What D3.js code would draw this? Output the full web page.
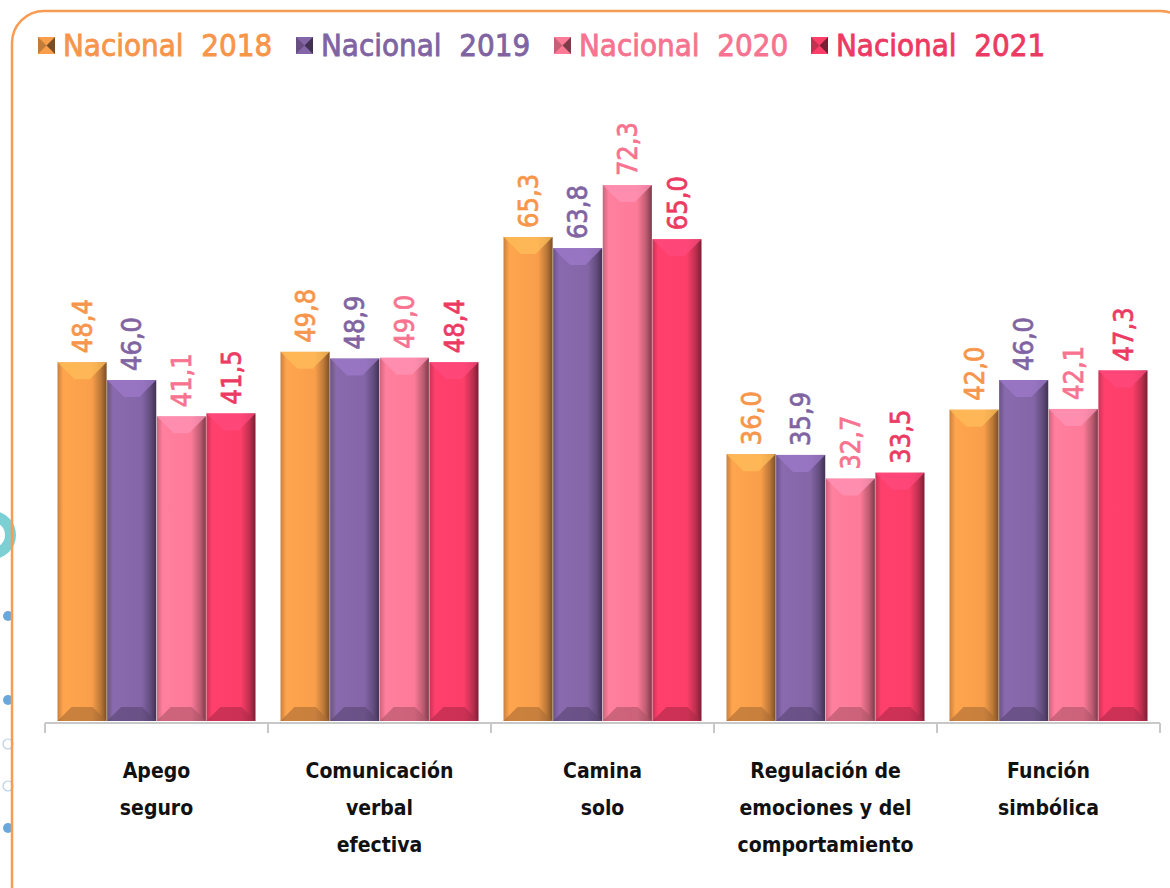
<!DOCTYPE html>
<html>
<head>
<meta charset="utf-8">
<script src="https://cdn.jsdelivr.net/npm/d3@7"></script>
<style>
  body { margin: 0; background: #fff; }
  svg { display: block; }
</style>
</head>
<body>
<div id="chart"></div>
<script>
// categories (lines of each label) and series
var categories = [
  ["Apego", "seguro"],
  ["Comunicación", "verbal", "efectiva"],
  ["Camina", "solo"],
  ["Regulación de", "emociones y del", "comportamiento"],
  ["Función", "simbólica"]
];
var seriesNames = ["Nacional  2018", "Nacional  2019", "Nacional  2020", "Nacional  2021"];
var v2018 = [48.4, 49.8, 65.3, 36.0, 42.0];
var v2019 = [46.0, 48.9, 63.8, 35.9, 46.0];
var v2020 = [41.1, 49.0, 72.3, 32.7, 42.1];
var v2021 = [41.5, 48.4, 65.0, 33.5, 47.3];

var width = 1170, height = 888;
var fills = ["#f99f4b", "#8466a8", "#fe7b98", "#fd3e69"];
var textColors = ["#f7954a", "#8064a2", "#f7738f", "#ec3a62"];

var allSeries = [v2018, v2019, v2020, v2021];
var data = categories.map(function(c, i) {
  return { cat: c, vals: allSeries.map(function(s, j) { return { s: j, v: s[i] }; }) };
});

var svg = d3.select("#chart").append("svg")
  .attr("width", width)
  .attr("height", height)
  .style("font-family", "'DejaVu Sans Condensed', 'Open Sans', sans-serif");

var defs = svg.append("defs");
fills.forEach(function(f, i) {
  var c = d3.color(f);
  var g = defs.append("linearGradient").attr("id", "g" + i)
    .attr("x1", 0).attr("x2", 1).attr("y1", 0).attr("y2", 0);
  g.append("stop").attr("offset", "0%").attr("stop-color", c.darker(0.6));
  g.append("stop").attr("offset", "12%").attr("stop-color", c.brighter(0.1));
  g.append("stop").attr("offset", "70%").attr("stop-color", c);
  g.append("stop").attr("offset", "88%").attr("stop-color", c.darker(0.8));
  g.append("stop").attr("offset", "100%").attr("stop-color", c.darker(2));
});

// decorations on left edge
var deco = svg.append("g");
deco.append("circle").attr("cx", -8).attr("cy", 535).attr("r", 24).attr("fill", "#7ccfd3");
deco.append("circle").attr("cx", -8).attr("cy", 535).attr("r", 13).attr("fill", "#fff");
[616, 700, 828].forEach(function(y) {
  deco.append("circle").attr("cx", 8).attr("cy", y).attr("r", 5).attr("fill", "#6aa8dc");
});
[744, 786].forEach(function(y) {
  deco.append("circle").attr("cx", 8).attr("cy", y).attr("r", 5).attr("fill", "none")
    .attr("stroke", "#b7cfe8").attr("stroke-width", 1.2);
});

// frame
svg.append("rect")
  .attr("x", 12).attr("y", 11)
  .attr("width", 1180).attr("height", 910)
  .attr("rx", 32)
  .attr("fill", "#fff")
  .attr("fill-opacity", 0)
  .attr("stroke", "#f89b53")
  .attr("stroke-width", 2.5);

var x0 = d3.scaleBand().domain(d3.range(categories.length)).range([45, 1160]).paddingInner(0).paddingOuter(0);
var x1 = d3.scaleBand().domain(d3.range(4)).range([12, x0.bandwidth() - 12]).padding(0.01);
var y = d3.scaleLinear().domain([0, 80]).range([721, 128]);

// axis
var axisG = svg.append("g").attr("transform", "translate(0,723)");
axisG.append("line").attr("x1", 45).attr("x2", 1160).attr("stroke", "#c8c8c8").attr("stroke-width", 2);
axisG.selectAll(".tk").data(d3.range(categories.length + 1)).enter().append("line")
  .attr("x1", function(d) { return d === categories.length ? 1160 : x0(d); })
  .attr("x2", function(d) { return d === categories.length ? 1160 : x0(d); })
  .attr("y1", 0).attr("y2", 10)
  .attr("stroke", "#c8c8c8").attr("stroke-width", 2);

var groups = svg.selectAll(".grp").data(data).enter().append("g")
  .attr("transform", function(d, i) { return "translate(" + x0(i) + ",0)"; });

var bars = groups.selectAll(".bar").data(function(d) { return d.vals; }).enter().append("g");

bars.append("rect")
  .attr("x", function(d) { return x1(d.s); })
  .attr("y", function(d) { return y(d.v); })
  .attr("width", x1.bandwidth())
  .attr("height", function(d) { return y(0) - y(d.v); })
  .attr("fill", function(d) { return "url(#g" + d.s + ")"; });

// top bevel
bars.append("path")
  .attr("d", function(d) {
    var l = x1(d.s), r = l + x1.bandwidth(), t = y(d.v), b = 17;
    return "M" + l + "," + t + "L" + r + "," + t + "L" + (r - b) + "," + (t + b) + "L" + (l + b) + "," + (t + b) + "Z";
  })
  .attr("fill", function(d) { return d3.color(fills[d.s]).brighter(0.5); })
  .attr("opacity", 0.75);
// bottom bevel
bars.append("path")
  .attr("d", function(d) {
    var l = x1(d.s), r = l + x1.bandwidth(), bt = y(0), b = 14;
    return "M" + l + "," + bt + "L" + r + "," + bt + "L" + (r - b) + "," + (bt - b) + "L" + (l + b) + "," + (bt - b) + "Z";
  })
  .attr("fill", function(d) { return d3.color(fills[d.s]).darker(1.1); })
  .attr("opacity", 0.6);

// value labels
bars.append("text")
  .attr("transform", function(d) {
    return "translate(" + (x1(d.s) + x1.bandwidth() / 2) + "," + (y(d.v) - 9) + ") rotate(-90)";
  })
  .attr("dy", "0.36em")
  .attr("fill", function(d) { return textColors[d.s]; })
  .attr("stroke", function(d) { return textColors[d.s]; })
  .attr("stroke-width", 0.7)
  .style("font-size", "27px")
  .text(function(d) { return d3.format(".1f")(d.v).replace(".", ","); });

// category labels
groups.append("text")
  .attr("text-anchor", "middle")
  .style("font-size", "21px")
  .style("font-weight", "bold")
  .attr("fill", "#111")
  .selectAll("tspan").data(function(d) { return d.cat; }).enter().append("tspan")
  .attr("x", x0.bandwidth() / 2)
  .attr("y", function(d, i) { return 778 + i * 37; })
  .text(function(d) { return d; });

// legend
var legend = svg.append("g").attr("transform", "translate(38,45)");
var lx = [0, 258, 516, 773];
var li = legend.selectAll(".li").data(seriesNames).enter().append("g")
  .attr("transform", function(d, i) { return "translate(" + lx[i] + ",0)"; });
li.append("rect").attr("x", 0).attr("y", -8).attr("width", 17).attr("height", 17)
  .attr("fill", function(d, i) { return fills[i]; });
li.append("path")
  .attr("d", "M0,-8L8.5,0.5L0,9Z")
  .attr("fill", function(d, i) { return d3.color(fills[i]).darker(0.7); });
li.append("path")
  .attr("d", "M17,-8L8.5,0.5L17,9Z")
  .attr("fill", function(d, i) { return d3.color(fills[i]).darker(2); });
li.append("text")
  .attr("x", 25).attr("dy", "0.36em")
  .style("font-size", "31px")
  .attr("xml:space", "preserve")
  .attr("fill", function(d, i) { return textColors[i]; })
  .attr("stroke", function(d, i) { return textColors[i]; })
  .attr("stroke-width", 0.8)
  .text(function(d) { return d; });
</script>
</body>
</html>
